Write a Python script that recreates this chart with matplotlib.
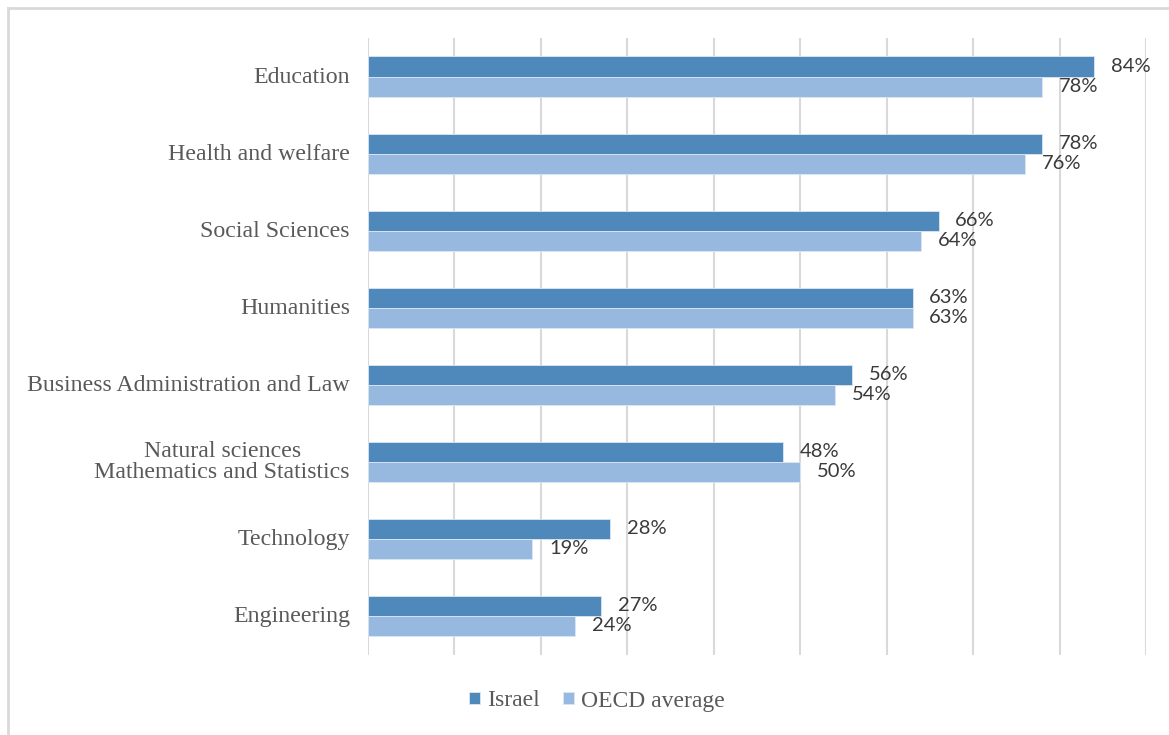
import numpy as np
import matplotlib.pyplot as plt
import matplotlib.transforms as mtransforms
from matplotlib.lines import Line2D

categories = ['Education', 'Health and welfare', 'Social Sciences', 'Humanities',
              'Business Administration and Law',
              'Natural sciences\nMathematics and Statistics',
              'Technology', 'Engineering']
israel = [84, 78, 66, 63, 56, 48, 28, 27]
oecd = [78, 76, 64, 63, 54, 50, 19, 24]
series_names = ['Israel', 'OECD average']

c_israel = '#4F88BB'
c_oecd = '#98B9DF'

fig = plt.figure(figsize=(11.69, 7.35), dpi=100)
ax = fig.add_axes([368 / 1169, 1 - 654.5 / 735, (1146 - 368) / 1169, (654.5 - 38) / 735])

# frame around the chart area
fig.add_artist(Line2D([8 / 1169, 8 / 1169], [0, 1 - 8 / 735], color='#D9D9D9', lw=2,
                      transform=fig.transFigure))
fig.add_artist(Line2D([8 / 1169, 1], [1 - 8 / 735, 1 - 8 / 735], color='#D9D9D9', lw=2,
                      transform=fig.transFigure))

y = np.arange(len(categories))
h = 0.26
b1 = ax.barh(y - h / 2, israel, height=h, color=c_israel, edgecolor='#DCE6F2', linewidth=0.6,
             label=series_names[0], zorder=3)
b2 = ax.barh(y + h / 2, oecd, height=h, color=c_oecd, edgecolor='#DCE6F2', linewidth=0.6,
             label=series_names[1], zorder=3)

for bars in (b1, b2):
    ax.bar_label(bars, labels=[f'{int(v)}%' for v in bars.datavalues], padding=12,
                 fontsize=14.5, color='#3A3A3A', family='Lato')

ax.set_xlim(0, 90)
ax.set_ylim(len(categories) - 0.5, -0.5)
ax.set_xticks(np.arange(0, 91, 10))
ax.set_xticklabels([])
ax.grid(axis='x', color='#D9D9D9', lw=1.5, zorder=0)
ax.tick_params(axis='both', length=0)
ax.tick_params(axis='y', pad=13)
for s in ax.spines.values():
    s.set_visible(False)

ax.set_yticks(y)
ax.set_yticklabels(categories, family='Liberation Serif', fontsize=17.2, color='#595959',
                   multialignment='center', linespacing=0.95, va='center_baseline')
shift = mtransforms.ScaledTranslation(0, 2 / 100, fig.dpi_scale_trans)
for lab in ax.get_yticklabels():
    lab.set_transform(lab.get_transform() + shift)

leg = fig.legend(handles=[b1, b2], labels=series_names, loc='center',
                 bbox_to_anchor=(597 / 1169, 1 - 701 / 735), ncol=2, frameon=False,
                 prop={'family': 'Liberation Serif', 'size': 17}, handlelength=0.45,
                 handleheight=0.45, handletextpad=0.3, columnspacing=1.0)
for t in leg.get_texts():
    t.set_color('#595959')

fig.savefig('out.png', dpi=100)
